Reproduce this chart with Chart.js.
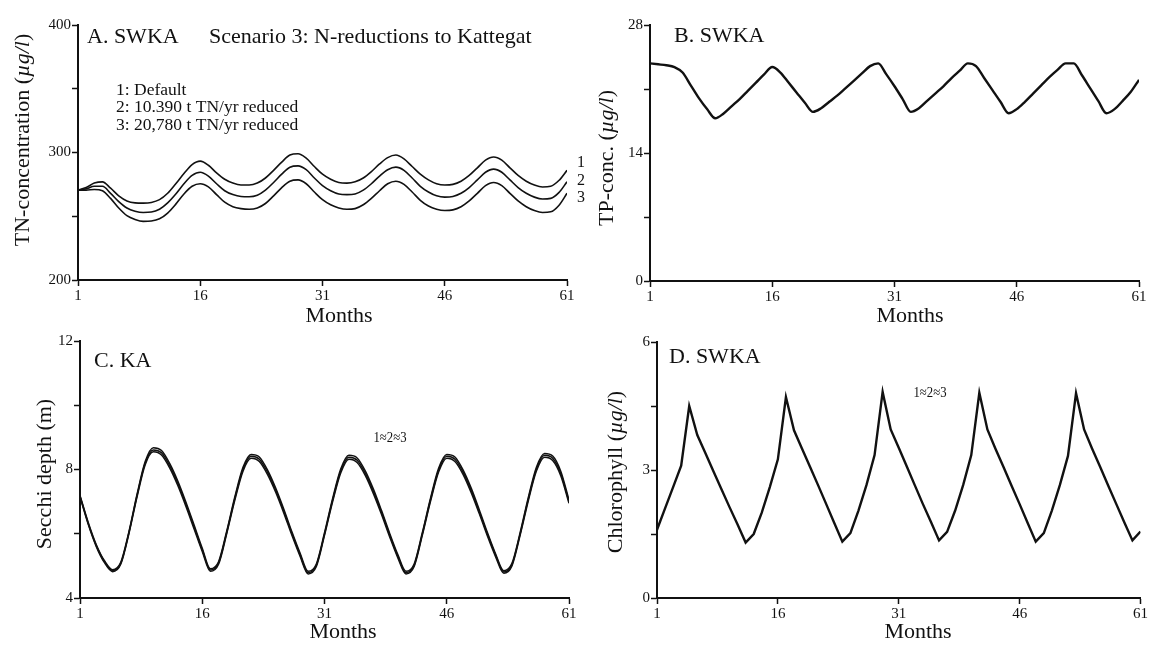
<!DOCTYPE html>
<html>
<head>
<meta charset="utf-8">
<script src="https://cdn.jsdelivr.net/npm/chart.js@4.4.0/dist/chart.umd.min.js"></script>
<style>
  html, body { margin: 0; padding: 0; background: #fff; }
  #wrap { position: relative; width: 1149px; height: 645px; overflow: hidden; }
  #wrap canvas { position: absolute; left: 0; top: 0; }
</style>
</head>
<body>
<div id="wrap">
  <canvas id="tn" width="1149" height="645"></canvas>
  <canvas id="tp" width="1149" height="645"></canvas>
  <canvas id="secchi" width="1149" height="645"></canvas>
  <canvas id="chl" width="1149" height="645"></canvas>
</div>
<script>
// months of the simulation
const months = [1,2,3,4,5,6,7,8,9,10,11,12,13,14,15,16,17,18,19,20,21,22,23,24,25,26,27,28,29,30,
  31,32,33,34,35,36,37,38,39,40,41,42,43,44,45,46,47,48,49,50,51,52,53,54,55,56,57,58,59,60,61];
const monthTicks = [1, 16, 31, 46, 61];

// A. TN concentration, SWKA (ug/l)
const tnDefault = [270.5,272.5,276,277,272,266,262,260.5,260.3,260.8,263,268,275.5,283.5,290.5,293.2,290,284,279,276,
  274.5,274.5,276,280,286,292.5,298,299,295.5,289,283,279,276.5,276,277,280,285,291,296,298,
  295,289,283,278.5,275.5,274.5,275,277.5,282,288,294,296.5,294,288,282,277.5,274.5,273,273.5,278,286];
const tnReduced10390 = [270.5,271.5,273.5,273.5,268,261.5,256.5,254,253,253.3,255.5,260.5,267.5,275.5,282,284.5,281.5,275.5,270,267,
  265.5,265.3,266.5,270.5,276.5,283,288.5,289.5,286.5,280,274,270,267.5,267,267.5,270.5,275.5,281.5,286.5,288.5,
  286,280,273.5,269,266,265,265.5,268,272.5,278.5,284.5,287,284.5,278.5,272.5,268,265,263.5,264,268.5,277];
const tnReduced20780 = [270.5,270.5,271,270,264,256.5,250.5,247.5,246,246.3,248,252.5,259.5,267.5,273.5,275.5,273,267,261,257.5,
  256,255.5,256.5,260,266,272.5,277.5,278.5,275.5,269,263,259,256.5,255.5,256,259,264,270,275.5,277.5,
  275,269,262.5,258,255.5,254.5,255,257.5,262,268,274,276.5,274,268,262,257.5,254.5,253,253.5,258.5,268];
const tnTicks = [200, 250, 300, 350, 400];
const tnLabels = [200, 300, 400];

// B. TP concentration, SWKA (ug/l)
const tpSeries = [23.8,23.7,23.6,23.4,22.8,21.4,20.0,18.8,17.8,18.3,19.1,19.9,20.8,21.7,22.6,23.4,22.8,21.7,20.6,19.5,
  18.5,18.9,19.6,20.3,21.1,21.9,22.7,23.5,23.8,22.6,21.3,19.9,18.5,18.9,19.7,20.5,21.3,22.2,23.0,23.8,
  23.5,22.2,20.9,19.6,18.35,18.8,19.6,20.5,21.4,22.3,23.1,23.8,23.8,22.5,21.1,19.7,18.35,18.8,19.7,20.7,22.0];
const tpTicks = [0, 7, 14, 21, 28];
const tpLabels = [0, 14, 28];

// C. Secchi depth, KA (m), one series per scenario
const secchiDefault = [7.15,6.3,5.6,5.1,4.82,5.05,6.0,7.15,8.15,8.55,8.45,8.05,7.5,6.85,6.15,5.45,4.83,5.05,6.0,7.05,
  7.95,8.35,8.25,7.85,7.3,6.65,5.95,5.3,4.75,4.98,5.95,7.0,7.9,8.32,8.22,7.82,7.25,6.6,5.9,5.25,
  4.75,4.98,5.95,7.0,7.92,8.35,8.25,7.85,7.28,6.62,5.92,5.28,4.77,5.0,5.95,7.02,7.95,8.38,8.28,7.8,6.95];
const secchiReduced10390 = [7.17,6.33,5.63,5.13,4.85,5.08,6.03,7.19,8.2,8.61,8.52,8.12,7.57,6.92,6.21,5.5,4.87,5.09,6.04,7.1,
  8.01,8.41,8.32,7.92,7.37,6.71,6.01,5.35,4.79,5.02,5.99,7.05,7.96,8.38,8.29,7.89,7.32,6.66,5.96,5.3,
  4.79,5.02,5.99,7.05,7.98,8.41,8.32,7.92,7.35,6.68,5.98,5.33,4.81,5.04,5.99,7.07,8.01,8.44,8.35,7.87,7.0];
const secchiReduced20780 = [7.19,6.36,5.66,5.16,4.88,5.11,6.06,7.23,8.25,8.68,8.59,8.19,7.64,6.98,6.27,5.55,4.91,5.13,6.08,7.15,
  8.07,8.47,8.39,7.99,7.43,6.77,6.06,5.4,4.83,5.06,6.03,7.1,8.02,8.44,8.36,7.96,7.39,6.72,6.01,5.35,
  4.83,5.06,6.03,7.1,8.04,8.47,8.39,7.99,7.42,6.74,6.03,5.37,4.85,5.08,6.03,7.12,8.07,8.5,8.42,7.94,7.05];
const secchiTicks = [4, 6, 8, 10, 12];
const secchiLabels = [4, 8, 12];

// D. Chlorophyll, SWKA (ug/l) - the three scenarios coincide
const chlorophyll = [1.6,2.1,2.6,3.1,4.5,3.82,3.4,2.97,2.55,2.13,1.72,1.3,1.5,2.0,2.6,3.25,4.71,3.93,3.5,3.07,
  2.64,2.2,1.76,1.32,1.52,2.05,2.65,3.35,4.83,3.95,3.52,3.08,2.64,2.2,1.78,1.35,1.55,2.05,2.65,3.35,
  4.81,3.95,3.5,3.07,2.63,2.2,1.76,1.32,1.52,2.05,2.65,3.33,4.8,3.95,3.5,3.07,2.63,2.2,1.77,1.35,1.56];
const chlTicks = [0, 1.5, 3, 4.5, 6];
const chlLabels = [0, 3, 6];

const SERIF = '"Liberation Serif", "Times New Roman", serif';
const INK = '#111';

// free text on a panel: titles, notes and axis names
const panelText = {
  id: 'panelText',
  afterDraw(chart, args, opts) {
    const ctx = chart.ctx;
    (opts.items || []).forEach(it => {
      const parts = it.parts || [[it.text, '']];
      const size = it.size || 20;
      ctx.save();
      ctx.fillStyle = INK;
      ctx.textBaseline = 'middle';
      ctx.textAlign = 'left';
      let w = 0;
      parts.forEach(p => { ctx.font = `${p[1]} ${size}px ${SERIF}`; w += ctx.measureText(p[0]).width; });
      ctx.translate(it.x, it.y);
      if (it.rotate) ctx.rotate(-Math.PI / 2);
      if (it.sx) ctx.scale(it.sx, 1);
      let x = it.align === 'left' ? 0 : -w / 2;
      parts.forEach(p => {
        ctx.font = `${p[1]} ${size}px ${SERIF}`;
        ctx.fillText(p[0], x, 0);
        x += ctx.measureText(p[0]).width;
      });
      ctx.restore();
    });
  }
};

function series(values, width) {
  return {
    data: months.map((m, i) => ({ x: m, y: values[i] })),
    borderColor: INK,
    borderWidth: width,
    pointRadius: 0,
    fill: false,
    cubicInterpolationMode: 'monotone'
  };
}

function axisStyle() {
  return {
    grid: { display: true, drawOnChartArea: false, drawTicks: true, tickLength: 6, tickWidth: 1.5, tickColor: INK },
    border: { display: true, color: INK, width: 2 }
  };
}

function panel(id, box, yMin, yMax, yTicks, yLabels, datasets, items) {
  const yW = 44, xH = 36;
  return new Chart(document.getElementById(id), {
    type: 'line',
    data: { datasets },
    options: {
      responsive: false,
      animation: false,
      events: [],
      layout: { padding: { left: box.left - yW, right: 1149 - box.right, top: box.top, bottom: 645 - box.bottom - xH } },
      plugins: { legend: { display: false }, tooltip: { enabled: false }, panelText: { items } },
      scales: {
        x: Object.assign(axisStyle(), {
          type: 'linear', min: 1, max: 61,
          afterBuildTicks: s => { s.ticks = monthTicks.map(v => ({ value: v })); },
          afterFit: s => { s.height = xH; },
          ticks: { autoSkip: false, maxRotation: 0, padding: 1, color: INK, font: { family: SERIF, size: 15 } }
        }),
        y: Object.assign(axisStyle(), {
          type: 'linear', min: yMin, max: yMax,
          afterBuildTicks: s => { s.ticks = yTicks.map(v => ({ value: v })); },
          afterFit: s => { s.width = yW; },
          ticks: {
            autoSkip: false, padding: 1, color: INK, font: { family: SERIF, size: 15 },
            callback: v => yLabels.includes(v) ? String(v) : ''
          }
        })
      }
    },
    plugins: [panelText]
  });
}

const ugl = name => [[name + ' (', ''], ['\u00b5g/l', 'italic'], [')', '']];

panel('tn', { left: 78, right: 567, top: 25, bottom: 280 }, 200, 400, tnTicks, tnLabels,
  [series(tnDefault, 1.6), series(tnReduced10390, 1.6), series(tnReduced20780, 1.6)],
  [
    { text: 'A. SWKA', x: 87, y: 37, align: 'left', size: 22 },
    { text: 'Scenario 3: N-reductions to Kattegat', x: 209, y: 37, align: 'left', size: 22 },
    { text: '1: Default', x: 116, y: 90, align: 'left', size: 17.5 },
    { text: '2: 10.390 t TN/yr reduced', x: 116, y: 107, align: 'left', size: 17.5 },
    { text: '3: 20,780 t TN/yr reduced', x: 116, y: 125, align: 'left', size: 17.5 },
    { text: '1', x: 581, y: 163, size: 16 },
    { text: '2', x: 581, y: 181, size: 16 },
    { text: '3', x: 581, y: 198, size: 16 },
    { parts: ugl('TN-concentration'), x: 23, y: 140, rotate: true, size: 22 },
    { text: 'Months', x: 339, y: 316, size: 22 }
  ]);

panel('tp', { left: 650, right: 1139, top: 25, bottom: 281 }, 0, 28, tpTicks, tpLabels,
  [series(tpSeries, 2.4)],
  [
    { text: 'B. SWKA', x: 674, y: 36, align: 'left', size: 22 },
    { parts: ugl('TP-conc.'), x: 607, y: 158, rotate: true, size: 22 },
    { text: 'Months', x: 910, y: 316, size: 22 }
  ]);

panel('secchi', { left: 80, right: 569, top: 341, bottom: 598 }, 4, 12, secchiTicks, secchiLabels,
  [series(secchiDefault, 1.5), series(secchiReduced10390, 1.5), series(secchiReduced20780, 1.5)],
  [
    { text: 'C. KA', x: 94, y: 361, align: 'left', size: 22 },
    { text: '1\u22482\u22483', x: 390, y: 438, size: 15, sx: 0.85 },
    { text: 'Secchi depth (m)', x: 45, y: 474, rotate: true, size: 22 },
    { text: 'Months', x: 343, y: 632, size: 22 }
  ]);

const chlSet = series(chlorophyll, 2.4);
chlSet.cubicInterpolationMode = 'default';
chlSet.tension = 0;
panel('chl', { left: 657, right: 1142, top: 342, bottom: 598 }, 0, 6, chlTicks, chlLabels,
  [chlSet],
  [
    { text: 'D. SWKA', x: 669, y: 357, align: 'left', size: 22 },
    { text: '1\u22482\u22483', x: 930, y: 393, size: 15, sx: 0.85 },
    { parts: ugl('Chlorophyll'), x: 616, y: 472, rotate: true, size: 22 },
    { text: 'Months', x: 918, y: 632, size: 22 }
  ]);
</script>
</body>
</html>
